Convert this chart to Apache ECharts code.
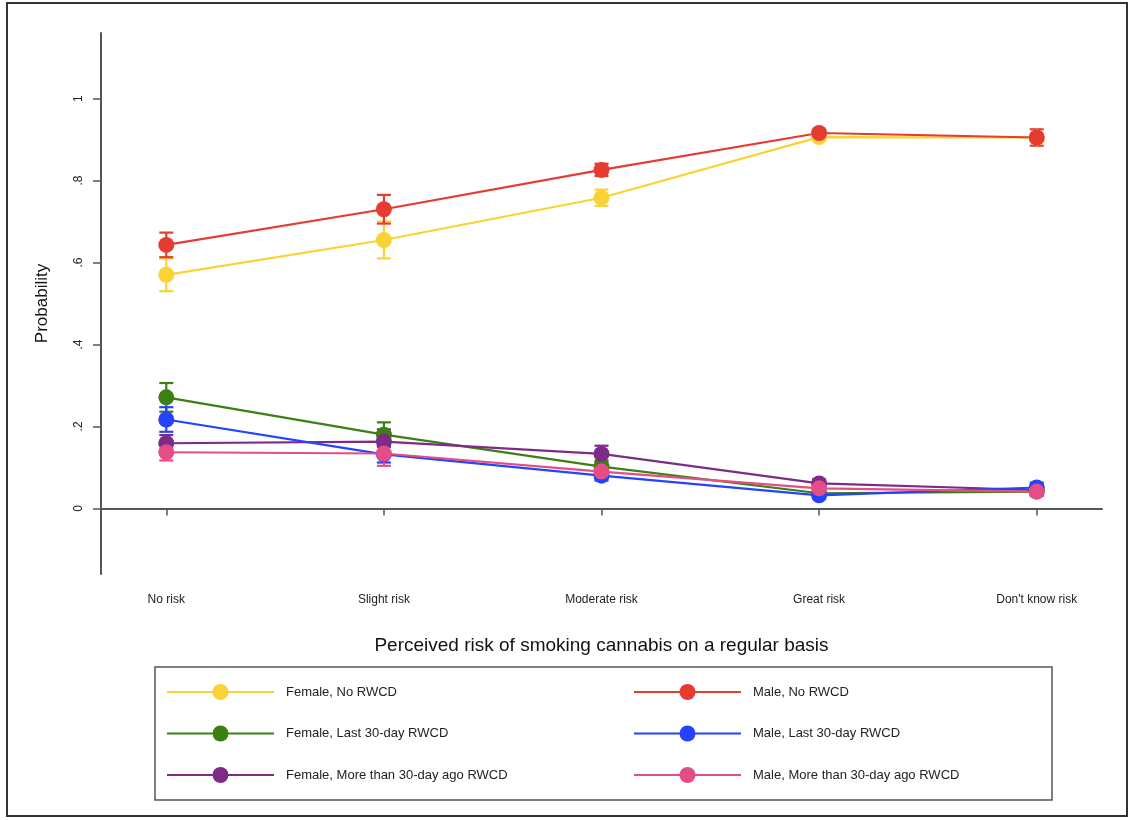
<!DOCTYPE html>
<html><head><meta charset="utf-8">
<script src="https://cdn.jsdelivr.net/npm/echarts@6/dist/echarts.min.js"></script>
<style>html,body{margin:0;padding:0;background:#fff}#c{width:1130px;height:820px}</style>
</head><body><div id="c"></div>
<script>
const categories = ["No risk", "Slight risk", "Moderate risk", "Great risk", "Don't know risk"];
const yTicks = [0, 0.2, 0.4, 0.6, 0.8, 1];
const yTickLabels = ["0", ".2", ".4", ".6", ".8", "1"];

const femaleNo = [0.570, 0.655, 0.758, 0.906, 0.905];
const femaleNoErr = [0.040, 0.045, 0.020, 0.008, 0.010];
const maleNo = [0.643, 0.730, 0.826, 0.916, 0.905];
const maleNoErr = [0.030, 0.035, 0.015, 0.008, 0.020];
const femaleLast = [0.271, 0.180, 0.102, 0.037, 0.041];
const femaleLastErr = [0.035, 0.030, 0.015, 0.008, 0.010];
const maleLast = [0.217, 0.132, 0.080, 0.032, 0.051];
const maleLastErr = [0.030, 0.020, 0.012, 0.008, 0.012];
const femaleMore = [0.159, 0.163, 0.133, 0.061, 0.045];
const femaleMoreErr = [0.020, 0.030, 0.020, 0.010, 0.010];
const maleMore = [0.137, 0.134, 0.090, 0.049, 0.041];
const maleMoreErr = [0.020, 0.030, 0.015, 0.010, 0.010];

const seriesDefs = [
  {name: "Female, No RWCD", vals: femaleNo, err: femaleNoErr, color: "#F9D335"},
  {name: "Female, Last 30-day RWCD", vals: femaleLast, err: femaleLastErr, color: "#3C7F13"},
  {name: "Female, More than 30-day ago RWCD", vals: femaleMore, err: femaleMoreErr, color: "#7D2B87"},
  {name: "Male, Last 30-day RWCD", vals: maleLast, err: maleLastErr, color: "#2343FF"},
  {name: "Male, More than 30-day ago RWCD", vals: maleMore, err: maleMoreErr, color: "#E44D85"},
  {name: "Male, No RWCD", vals: maleNo, err: maleNoErr, color: "#E63B30"}
];

const FONT = "Liberation Sans, Arial, sans-serif";
const series = [];
seriesDefs.forEach(s => {
  series.push({
    type: 'custom', name: s.name + ' CI', silent: true, z: 2,
    data: s.vals.map((v, i) => [i + 1, v - s.err[i], v + s.err[i]]),
    renderItem: function (params, api) {
      const x = api.value(0);
      const lo = api.coord([x, api.value(1)]);
      const hi = api.coord([x, api.value(2)]);
      const hw = 7;
      const st = {stroke: s.color, lineWidth: 2.2};
      return {type: 'group', children: [
        {type: 'line', shape: {x1: lo[0], y1: lo[1], x2: hi[0], y2: hi[1]}, style: st},
        {type: 'line', shape: {x1: lo[0] - hw, y1: lo[1], x2: lo[0] + hw, y2: lo[1]}, style: st},
        {type: 'line', shape: {x1: hi[0] - hw, y1: hi[1], x2: hi[0] + hw, y2: hi[1]}, style: st}
      ]};
    }
  });
  series.push({
    type: 'line', name: s.name, z: 3,
    data: s.vals.map((v, i) => [i + 1, v]),
    symbol: 'circle', symbolSize: 16, showSymbol: true,
    lineStyle: {color: s.color, width: 2.2},
    itemStyle: {color: s.color},
    emphasis: {disabled: true}
  });
});

const legendCommon = {
  orient: 'vertical', itemWidth: 107, itemHeight: 20, itemGap: 25.5, padding: 0,
  textStyle: {fontFamily: FONT, fontSize: 13, color: '#222', padding: [0, 0, 0, 7]},
  selectedMode: false
};

const chart = echarts.init(document.getElementById('c'), null, {renderer: 'canvas'});
chart.setOption({
  animation: false,
  backgroundColor: '#fff',
  grid: {left: 101, right: 28, top: 33, bottom: 246, containLabel: false},
  xAxis: {
    type: 'value', min: 0.7, max: 5.3,
    name: 'Perceived risk of smoking cannabis on a regular basis',
    nameLocation: 'middle', nameGap: 62,
    nameTextStyle: {fontFamily: FONT, fontSize: 19, color: '#111'},
    axisLine: {lineStyle: {color: '#555', width: 2}},
    axisTick: {show: true, length: 7, lineStyle: {color: '#555', width: 1.5}, customValues: [1, 2, 3, 4, 5]},
    axisLabel: {customValues: [1, 2, 3, 4, 5], formatter: v => categories[Math.round(v) - 1],
      fontFamily: FONT, fontSize: 12, color: '#222', margin: 20},
    splitLine: {show: false}
  },
  yAxis: {
    type: 'value', min: -0.16, max: 1.16,
    name: 'Probability', nameLocation: 'middle', nameGap: 50, nameRotate: 90,
    nameTextStyle: {fontFamily: FONT, fontSize: 17, color: '#111'},
    axisLine: {show: true, lineStyle: {color: '#555', width: 2}},
    axisTick: {show: true, length: 8, lineStyle: {color: '#555', width: 1.5}, customValues: yTicks},
    axisLabel: {customValues: yTicks, formatter: v => yTickLabels[yTicks.findIndex(t => Math.abs(t - v) < 1e-6)],
      rotate: 90, fontFamily: FONT, fontSize: 12, color: '#222', margin: 16},
    splitLine: {show: false}
  },
  legend: [
    Object.assign({}, legendCommon, {left: 166, top: 684,
      data: ["Female, No RWCD", "Female, Last 30-day RWCD", "Female, More than 30-day ago RWCD"]}),
    Object.assign({}, legendCommon, {left: 633, top: 684,
      data: ["Male, No RWCD", "Male, Last 30-day RWCD", "Male, More than 30-day ago RWCD"]})
  ],
  graphic: [
    {type: 'rect', shape: {x: 7, y: 3, width: 1120, height: 813}, style: {fill: 'none', stroke: '#333', lineWidth: 2}, silent: true, z: 0},
    {type: 'rect', shape: {x: 155, y: 667, width: 897, height: 133}, style: {fill: 'none', stroke: '#555', lineWidth: 1.5}, silent: true, z: 0}
  ],
  series: series
});
</script></body></html>
